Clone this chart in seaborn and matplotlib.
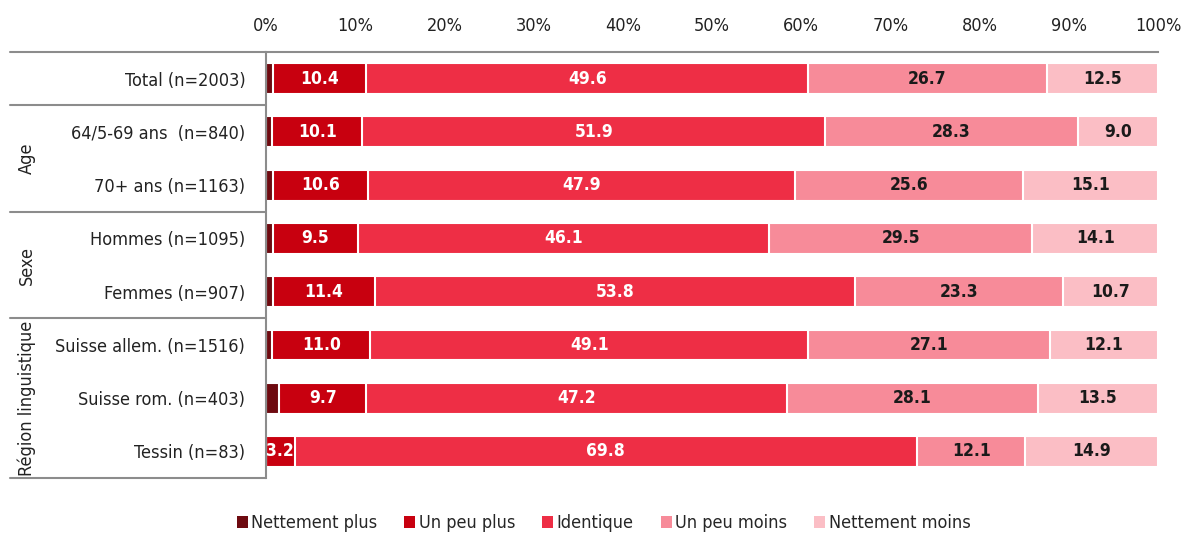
import numpy as np
import pandas as pd
import matplotlib
matplotlib.use("Agg")
import matplotlib.pyplot as plt
import matplotlib.transforms as mtransforms
from matplotlib.patches import Patch
import seaborn as sns

# ----------------------------------------------------------
# Data
# ----------------------------------------------------------
categories = [
    "Total (n=2003)",
    "64/5-69 ans  (n=840)",
    "70+ ans (n=1163)",
    "Hommes (n=1095)",
    "Femmes (n=907)",
    "Suisse allem. (n=1516)",
    "Suisse rom. (n=403)",
    "Tessin (n=83)",
]

series_names = ["Nettement plus", "Un peu plus", "Identique", "Un peu moins", "Nettement moins"]

nettement_plus = [0.8, 0.7, 0.8, 0.8, 0.8, 0.7, 1.5, 0.0]
un_peu_plus = [10.4, 10.1, 10.6, 9.5, 11.4, 11.0, 9.7, 3.2]
identique = [49.6, 51.9, 47.9, 46.1, 53.8, 49.1, 47.2, 69.8]
un_peu_moins = [26.7, 28.3, 25.6, 29.5, 23.3, 27.1, 28.1, 12.1]
nettement_moins = [12.5, 9.0, 15.1, 14.1, 10.7, 12.1, 13.5, 14.9]

groups = ["Age", "Sexe", "Région linguistique"]
group_rows = [(1, 2), (3, 4), (5, 7)]

colors = ["#6E0A10", "#C8000F", "#EE2E45", "#F78B99", "#FBBEC5"]
label_colors = [None, "white", "white", "#1a1a1a", "#1a1a1a"]

# ----------------------------------------------------------
# Style
# ----------------------------------------------------------
sns.set_style("white")
plt.rcParams["font.family"] = ["DejaVu Sans"]
plt.rcParams["font.stretch"] = "condensed"

df = pd.DataFrame(
    np.array([nettement_plus, un_peu_plus, identique, un_peu_moins, nettement_moins]).T,
    columns=series_names,
)
df["cat"] = categories
cum = df[series_names].cumsum(axis=1)

fig = plt.figure(figsize=(11.86, 5.36), dpi=100)
ax = fig.add_axes([0.2243, 0.108, 0.7521, 0.795])

# Stacked bars: draw the cumulative totals from right to left
for i in range(len(series_names) - 1, -1, -1):
    sns.barplot(
        x=cum[series_names[i]], y=df["cat"], orient="h", color=colors[i],
        saturation=1, width=0.58, edgecolor="white", linewidth=1.5, ax=ax,
    )

# Value labels
for i, name in enumerate(series_names):
    if label_colors[i] is None:
        continue
    for j, v in enumerate(df[name]):
        if v <= 0:
            continue
        xc = cum[name][j] - v / 2
        ax.text(xc, j, f"{v:.1f}", ha="center", va="center", fontsize=12.5,
                fontweight="bold", color=label_colors[i])

# Axes
ax.set_xlim(0, 100)
ax.set_ylim(len(categories) - 0.5, -0.5)
ax.xaxis.tick_top()
ax.set_xticks(np.arange(0, 101, 10))
ax.set_xticklabels([f"{t}%" for t in range(0, 101, 10)], fontsize=13, color="#222222")
ax.tick_params(axis="x", length=0, pad=12)
ax.tick_params(axis="y", length=0, pad=15, labelsize=13, labelcolor="#222222")
ax.set_xlabel("")
ax.set_ylabel("")
for s in ["right", "bottom"]:
    ax.spines[s].set_visible(False)
for s in ["top", "left"]:
    ax.spines[s].set_color("#8c8c8c")
    ax.spines[s].set_linewidth(1.5)

# Group separators and labels on the left
trans = mtransforms.blended_transform_factory(ax.transAxes, ax.transData)
x_left = -0.287
for yb in [-0.5, 0.5, 2.5, 4.5, 7.5]:
    ax.plot([x_left, 0], [yb, yb], color="#8c8c8c", lw=1.5, transform=trans, clip_on=False)

for g, (r0, r1) in zip(groups, group_rows):
    ax.text(-0.268, (r0 + r1) / 2, g, rotation=90, ha="center", va="center",
            fontsize=13, color="#222222", transform=trans)

# Legend
handles = [Patch(facecolor=c, edgecolor="none") for c in colors]
fig.legend(handles, series_names, loc="center", bbox_to_anchor=(0.509, 0.024), ncol=5,
           frameon=False, fontsize=13, handlelength=0.6, handleheight=0.6,
           handletextpad=0.2, columnspacing=1.5)

fig.savefig("out.png", dpi=100)
